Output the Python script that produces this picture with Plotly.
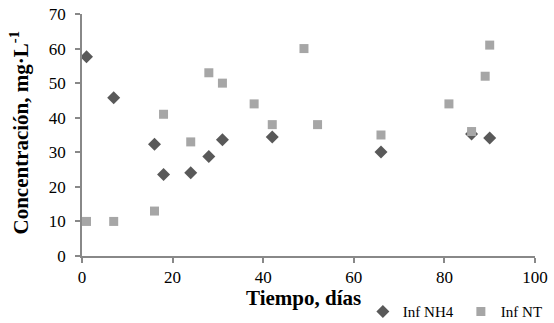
import plotly.graph_objects as go

nh4_x = [1, 7, 16, 18, 24, 28, 31, 42, 66, 86, 90]
nh4_y = [57.6, 45.8, 32.3, 23.6, 24.1, 28.8, 33.6, 34.4, 30.1, 35.3, 34.1]

nt_x = [1, 7, 16, 18, 24, 28, 31, 38, 42, 49, 52, 66, 81, 86, 89, 90]
nt_y = [10, 10, 13, 41, 33, 53, 50, 44, 38, 60, 38, 35, 44, 36, 52, 61]

FONT = "Liberation Serif"
AXC = "#888888"

fig = go.Figure()
fig.add_trace(go.Scatter(x=nh4_x, y=nh4_y, mode="markers", name="Inf NH4",
                         marker=dict(symbol="diamond", size=10, color="#595959")))
fig.add_trace(go.Scatter(x=nt_x, y=nt_y, mode="markers", name="Inf NT",
                         marker=dict(symbol="square", size=9, color="#A6A6A6")))

fig.update_layout(
    width=554, height=323,
    margin=dict(l=82, r=19, t=14, b=67, autoexpand=False),
    paper_bgcolor="white", plot_bgcolor="white",
    font=dict(family=FONT, size=17, color="black"),
    showlegend=True,
    legend=dict(orientation="h", xref="container", yref="container",
                x=0.655, y=0.035, xanchor="left", yanchor="middle",
                font=dict(family=FONT, size=15), itemwidth=30,
                entrywidth=53, entrywidthmode="pixels",
                bgcolor="rgba(0,0,0,0)", tracegroupgap=0),
    xaxis=dict(range=[0, 100], tickvals=[0, 20, 40, 60, 80, 100], automargin=False,
               showgrid=False, zeroline=False, showline=True, linecolor=AXC, linewidth=1.5,
               ticks="outside", ticklen=5, tickcolor=AXC, tickwidth=1.5,
               tickfont=dict(family=FONT, size=17), ticklabelstandoff=0),
    yaxis=dict(range=[0, 70], tickvals=[0, 10, 20, 30, 40, 50, 60, 70], automargin=False,
               showgrid=False, zeroline=False, showline=True, linecolor=AXC, linewidth=1.5,
               ticks="outside", ticklen=5, tickcolor=AXC, tickwidth=1.5,
               tickfont=dict(family=FONT, size=17), ticklabelstandoff=6),
    annotations=[
        dict(text="<b>Tiempo, días</b>", xref="paper", yref="paper", x=0.49, y=-0.175,
             xanchor="center", yanchor="middle", showarrow=False,
             font=dict(family=FONT, size=21)),
        dict(text="<b>Concentración, mg·L<sup>-1</sup></b>", xref="paper", yref="paper",
             x=-0.137, y=0.51, xanchor="center", yanchor="middle", textangle=-90,
             showarrow=False, font=dict(family=FONT, size=21)),
    ],
)

fig.write_html("out.html")
